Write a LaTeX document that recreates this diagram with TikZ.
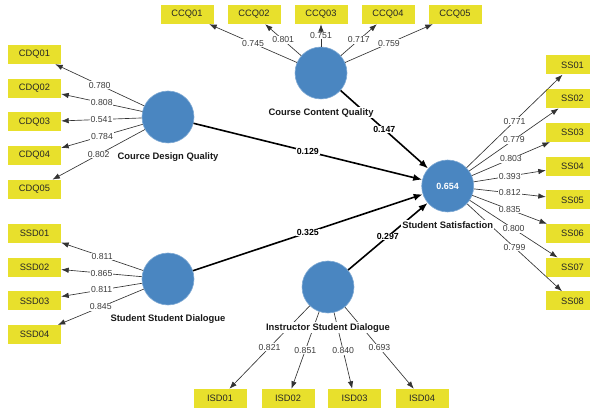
\documentclass[tikz,border=0pt]{standalone}
\usepackage{fontspec}
\setmainfont{Liberation Sans}
\usetikzlibrary{arrows.meta,positioning}
\definecolor{indyellow}{HTML}{E8E02C}
\definecolor{latblue}{HTML}{4A86C1}
\definecolor{loadgray}{HTML}{333333}
\definecolor{valgray}{HTML}{3C3C3C}
\tikzset{
  indicator/.style={rectangle, fill=indyellow, minimum width=53pt, minimum height=19pt,
    inner sep=0pt, font=\fontsize{9.3}{11}\selectfont, text=black!85},
  latent/.style={circle, fill=latblue, draw=latblue!70!white, line width=0.6pt,
    minimum size=52pt, inner sep=0pt, font=\bfseries\fontsize{9}{11}\selectfont, text=white},
  latname/.style={font=\bfseries\fontsize{9.4}{11}\selectfont, text=black!90,
    fill=white, inner sep=1pt},
  load/.style={draw=loadgray, line width=0.65pt, -{Latex[length=7.5pt,width=5.5pt]}},
  ld/.style={fill=white, inner sep=0.8pt, font=\fontsize{8.7}{10}\selectfont, text=valgray, pos=0.5},
  path/.style={draw=black, line width=1.6pt, -{Latex[length=9pt,width=7pt]}},
  pd/.style={fill=white, inner sep=0.8pt, font=\bfseries\fontsize{8.8}{10}\selectfont, text=black, pos=0.5},
}
\begin{document}
\begin{tikzpicture}[x=1pt, y=-1pt]
\useasboundingbox (0,0) rectangle (590,409);

% latent constructs
\node[latent] (cdq) at (168,117) {};
\node[latent] (ccq) at (321,73) {};
\node[latent] (ss) at (447.7,186) {0.654};
\node[latent] (ssd) at (168,279) {};
\node[latent] (isd) at (328,287) {};

% indicators of Cource Design Quality
\node[indicator] (cdq1) at (34.5,54.5) {CDQ01};
\node[indicator] (cdq2) at (34.5,88.2) {CDQ02};
\node[indicator] (cdq3) at (34.5,121.9) {CDQ03};
\node[indicator] (cdq4) at (34.5,155.6) {CDQ04};
\node[indicator] (cdq5) at (34.5,189.3) {CDQ05};

% indicators of Course Content Quality
\node[indicator] (ccq1) at (187,14.5) {CCQ01};
\node[indicator] (ccq2) at (254,14.5) {CCQ02};
\node[indicator] (ccq3) at (321,14.5) {CCQ03};
\node[indicator] (ccq4) at (388,14.5) {CCQ04};
\node[indicator] (ccq5) at (455,14.5) {CCQ05};

% indicators of Student Satisfaction
\node[indicator] (ss1) at (572.5,65) {SS01};
\node[indicator] (ss2) at (572.5,98.7) {SS02};
\node[indicator] (ss3) at (572.5,132.4) {SS03};
\node[indicator] (ss4) at (572.5,166.1) {SS04};
\node[indicator] (ss5) at (572.5,199.8) {SS05};
\node[indicator] (ss6) at (572.5,233.5) {SS06};
\node[indicator] (ss7) at (572.5,267.2) {SS07};
\node[indicator] (ss8) at (572.5,300.9) {SS08};

% indicators of Student Student Dialogue
\node[indicator] (ssd1) at (34.5,233.5) {SSD01};
\node[indicator] (ssd2) at (34.5,267.2) {SSD02};
\node[indicator] (ssd3) at (34.5,300.9) {SSD03};
\node[indicator] (ssd4) at (34.5,334.6) {SSD04};

% indicators of Instructor Student Dialogue
\node[indicator] (isd1) at (220,398.5) {ISD01};
\node[indicator] (isd2) at (288,398.5) {ISD02};
\node[indicator] (isd3) at (354.5,398.5) {ISD03};
\node[indicator] (isd4) at (422,398.5) {ISD04};

% outer loadings
\draw[load] (cdq) -- node[ld]{0.780} (cdq1);
\draw[load] (cdq) -- node[ld]{0.808} (cdq2);
\draw[load] (cdq) -- node[ld]{0.541} (cdq3);
\draw[load] (cdq) -- node[ld]{0.784} (cdq4);
\draw[load] (cdq) -- node[ld]{0.802} (cdq5);

\draw[load] (ccq) -- node[ld]{0.745} (ccq1);
\draw[load] (ccq) -- node[ld]{0.801} (ccq2);
\draw[load] (ccq) -- node[ld]{0.751} (ccq3);
\draw[load] (ccq) -- node[ld]{0.717} (ccq4);
\draw[load] (ccq) -- node[ld]{0.759} (ccq5);

\draw[load] (ss) -- node[ld]{0.771} (ss1);
\draw[load] (ss) -- node[ld]{0.779} (ss2);
\draw[load] (ss) -- node[ld]{0.803} (ss3);
\draw[load] (ss) -- node[ld]{0.393} (ss4);
\draw[load] (ss) -- node[ld]{0.812} (ss5);
\draw[load] (ss) -- node[ld]{0.835} (ss6);
\draw[load] (ss) -- node[ld]{0.800} (ss7);
\draw[load] (ss) -- node[ld]{0.799} (ss8);

\draw[load] (ssd) -- node[ld]{0.811} (ssd1);
\draw[load] (ssd) -- node[ld]{0.865} (ssd2);
\draw[load] (ssd) -- node[ld]{0.811} (ssd3);
\draw[load] (ssd) -- node[ld]{0.845} (ssd4);

\draw[load] (isd) -- node[ld]{0.821} (isd1);
\draw[load] (isd) -- node[ld]{0.851} (isd2);
\draw[load] (isd) -- node[ld]{0.840} (isd3);
\draw[load] (isd) -- node[ld]{0.693} (isd4);

% structural paths
\draw[path] (cdq) -- node[pd]{0.129} (ss);
\draw[path] (ccq) -- node[pd]{0.147} (ss);
\draw[path] (ssd) -- node[pd]{0.325} (ss);
\draw[path] (isd) -- node[pd]{0.297} (ss);

% construct names, set over the connectors
\node[latname, below=8pt of cdq] (cdqname) {Cource Design Quality};
\node[latname, below=8pt of ccq] (ccqname) {Course Content Quality};
\node[latname, below=8pt of ss] (ssname) {Student Satisfaction};
\node[latname, below=8pt of ssd] (ssdname) {Student Student Dialogue};
\node[latname, below=9pt of isd] (isdname) {Instructor Student Dialogue};
\end{tikzpicture}
\end{document}
